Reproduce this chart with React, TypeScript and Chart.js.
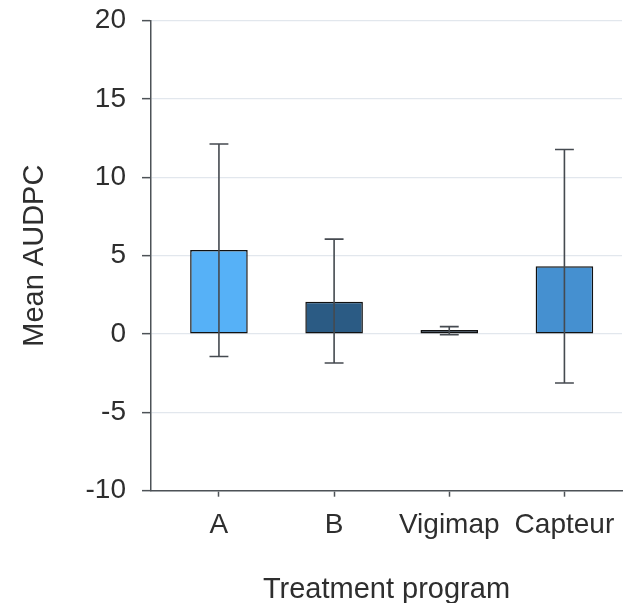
import { useEffect, useRef } from "react";
import { Chart, registerables } from "chart.js";
Chart.register(...registerables);

const categories = ["A", "B", "Vigimap", "Capteur"];
const means = [5.36, 2.06, 0.25, 4.33];
const errLow = [-1.43, -1.85, -0.05, -3.13];
const errHigh = [12.13, 6.06, 0.47, 11.78];
const yTicks = [-10, -5, 0, 5, 10, 15, 20];
const barColors = ["#56B1F7", "#2B5B84", "#132B43", "#4590D0"];

const FONT = "'Liberation Sans', Arial, sans-serif";
const TEXT = "#2e2e2e";
const AXIS = "#4d5257";
const GRID = "#e2e7ed";

const errorBarPlugin = {
  id: "errorBars",
  afterDatasetsDraw(chart: any) {
    const { ctx, scales } = chart;
    const x = scales.x;
    const y = scales.y;
    const half = (x.getPixelForValue(1) - x.getPixelForValue(0)) * 0.082;
    ctx.save();
    ctx.strokeStyle = "#454a50";
    ctx.lineWidth = 1.6;
    categories.forEach((_, i) => {
      const px = x.getPixelForValue(i);
      const yl = y.getPixelForValue(errLow[i]);
      const yh = y.getPixelForValue(errHigh[i]);
      ctx.beginPath();
      ctx.moveTo(px, yl);
      ctx.lineTo(px, yh);
      ctx.moveTo(px - half, yh);
      ctx.lineTo(px + half, yh);
      ctx.moveTo(px - half, yl);
      ctx.lineTo(px + half, yl);
      ctx.stroke();
    });
    ctx.restore();
  },
};

export default function App() {
  const ref = useRef<HTMLCanvasElement>(null);
  useEffect(() => {
    if (!ref.current) return;
    const chart = new Chart(ref.current, {
      type: "bar",
      data: {
        datasets: [
          {
            data: means.map((m, i) => ({ x: i, y: m })) as any,
            backgroundColor: barColors,
            borderColor: "#111111",
            borderWidth: 1.5,
            borderSkipped: false,
            categoryPercentage: 1,
            barPercentage: 0.5,
          },
        ],
      },
      options: {
        responsive: false,
        animation: false,
        layout: { padding: { top: 20.7, right: 1, left: 0, bottom: 0 } },
        plugins: { legend: { display: false }, tooltip: { enabled: false } },
        scales: {
          x: {
            type: "linear",
            offset: false,
            min: -0.59,
            max: 3.5,
            afterBuildTicks: (s: any) => {
              s.ticks = categories.map((_, i) => ({ value: i }));
            },
            afterFit: (s: any) => {
              s.height = 112.3;
              s.paddingLeft = 0;
              s.paddingRight = 0;
            },
            ticks: {
              callback: (v: any) => categories[v] ?? "",
              color: TEXT,
              font: { family: FONT, size: 28 },
              padding: 12,
              maxRotation: 0,
              autoSkip: false,
            },
            grid: { offset: false, drawOnChartArea: false, tickLength: 6, tickColor: AXIS, tickWidth: 1.5 },
            border: { color: AXIS, width: 1.5 },
            title: {
              display: true,
              text: "Treatment program",
              color: TEXT,
              font: { family: FONT, size: 29 },
              padding: { top: 0, bottom: -4 },
            },
          },
          y: {
            min: -10,
            max: 20,
            afterBuildTicks: (s: any) => {
              s.ticks = yTicks.map((v) => ({ value: v }));
            },
            afterFit: (s: any) => {
              s.width = 151;
              s.paddingTop = 0;
              s.paddingBottom = 0;
            },
            ticks: {
              color: TEXT,
              font: { family: FONT, size: 28 },
              padding: 16,
            },
            grid: { color: GRID, lineWidth: 1.3, tickLength: 9, tickColor: AXIS, tickWidth: 1.5 },
            border: { color: AXIS, width: 1.5 },
            title: {
              display: true,
              text: "Mean AUDPC",
              color: TEXT,
              font: { family: FONT, size: 29 },
              padding: { top: 18, bottom: 0 },
            },
          },
        },
      },
      plugins: [errorBarPlugin],
    });
    return () => chart.destroy();
  }, []);
  return (
    <div style={{ position: "fixed", left: 0, top: 0, width: 623, height: 603 }}>
      <canvas ref={ref} width={623} height={603} />
    </div>
  );
}
